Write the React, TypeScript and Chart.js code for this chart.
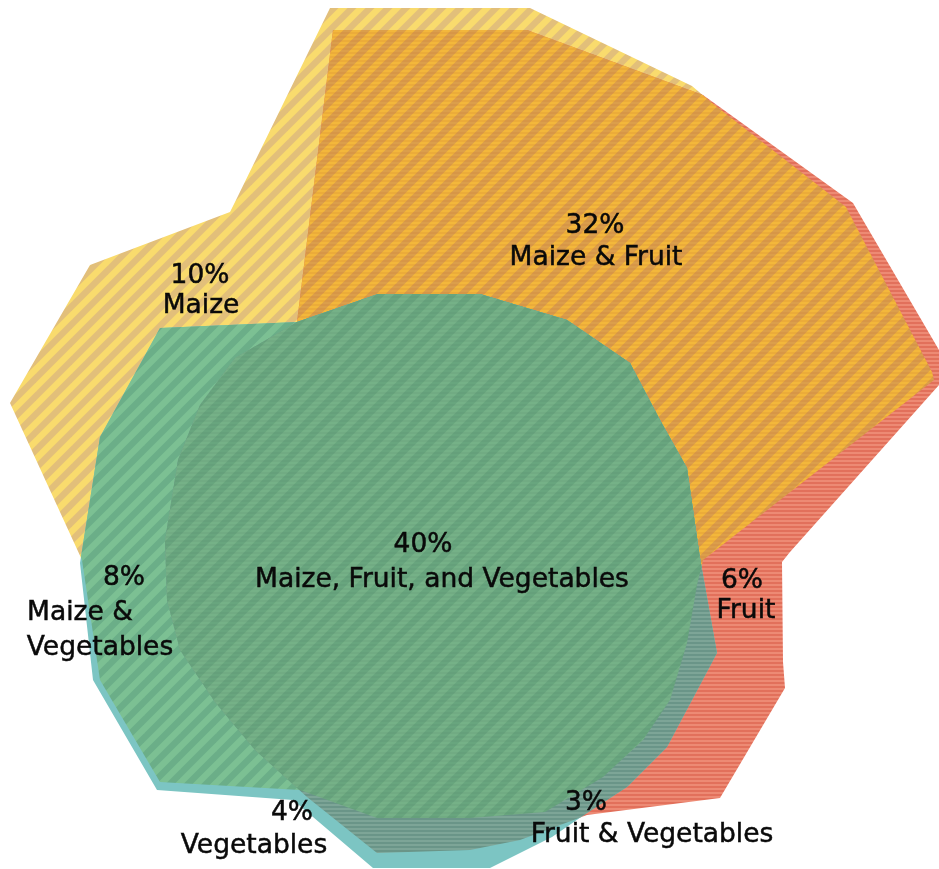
import React, { useEffect, useRef } from "react";
import { Chart, registerables } from "chart.js";

// ---------- data (outline vertices in diagram units, y grows downward) ----------
const maizeOutline: [number, number][] = [
  [330, 8], [530, 8], [692, 86], [712, 103], [846, 207], [932, 372], [934, 380],
  [703, 560], [697, 585], [687, 643], [670, 700], [643, 740], [603, 777],
  [545, 812], [470, 818], [377, 818], [300, 790], [160, 782], [100, 680],
  [82, 560], [10, 403], [90, 265], [230, 212], [237, 198],
];

const fruitOutline: [number, number][] = [
  [333, 30], [527, 30], [703, 95], [853, 203], [939, 350], [939, 385],
  [790, 552], [782, 562], [783, 662], [785, 688], [720, 798], [587, 815],
  [520, 840], [470, 850], [377, 853], [307, 797], [255, 750], [215, 702],
  [180, 650], [167, 600], [165, 540], [178, 460], [200, 405], [235, 358],
  [297, 322],
];

const vegetablesOutline: [number, number][] = [
  [160, 328], [297, 322], [378, 294], [480, 294], [567, 320], [630, 363],
  [660, 420], [687, 468], [700, 558], [717, 653], [667, 747], [627, 787],
  [587, 813], [552, 837], [490, 868], [373, 868], [293, 800], [157, 790],
  [93, 680], [80, 563], [100, 437],
];

const regionPercents = ["10%", "32%", "40%", "8%", "6%", "4%", "3%"];
const regionNames: string[][] = [
  ["Maize"],
  ["Maize & Fruit"],
  ["Maize, Fruit, and Vegetables"],
  ["Maize &", "Vegetables"],
  ["Fruit"],
  ["Vegetables"],
  ["Fruit & Vegetables"],
];

// label anchors: [percent x, percent baseline y], then one [x, baseline y] per name line
const labelAnchors: [number, number][][] = [
  [[200, 283], [201, 313]],
  [[595, 233], [596, 265]],
  [[423, 552], [442, 587]],
  [[124, 585], [80, 620], [100, 655]],
  [[742, 588], [746, 618]],
  [[292, 820], [254, 853]],
  [[586, 810], [652, 842]],
];

// ---------- plugins ----------
const regionClip = {
  id: "regionClip",
  beforeDatasetDraw(chart: any, args: any) {
    const ds: any = chart.data.datasets[args.index];
    if (!ds.clipTo) return;
    const ctx = chart.ctx;
    ctx.save();
    for (const j of ds.clipTo) {
      const pts = chart.getDatasetMeta(j).data;
      ctx.beginPath();
      pts.forEach((p: any, k: number) => (k ? ctx.lineTo(p.x, p.y) : ctx.moveTo(p.x, p.y)));
      ctx.closePath();
      ctx.clip();
    }
  },
  afterDatasetDraw(chart: any, args: any) {
    const ds: any = chart.data.datasets[args.index];
    if (ds.clipTo) chart.ctx.restore();
  },
};

Chart.register(regionClip);
Chart.register(...registerables);

const labelPlugin = {
  id: "vennLabels",
  afterDatasetsDraw(chart: any) {
    const ctx = chart.ctx;
    const xs = chart.scales.x;
    const ys = chart.scales.y;
    ctx.save();
    ctx.font = '26.5px "DejaVu Sans", Verdana, sans-serif';
    ctx.fillStyle = "#0a0a0a";
    ctx.strokeStyle = "#0a0a0a";
    ctx.lineWidth = 0.5;
    ctx.textAlign = "center";
    ctx.textBaseline = "alphabetic";
    regionPercents.forEach((pct, i) => {
      const lines = [pct, ...regionNames[i]];
      lines.forEach((t, k) => {
        const [x, y] = labelAnchors[i][k];
        const px = xs.getPixelForValue(x);
        const py = ys.getPixelForValue(y);
        ctx.fillText(t, px, py);
        ctx.strokeText(t, px, py);
      });
    });
    ctx.restore();
  },
};

function makePattern(
  ctx: CanvasRenderingContext2D,
  base: string,
  diag?: string | null,
  horiz?: string | null
) {
  const s = 36;
  const c = document.createElement("canvas");
  c.width = s;
  c.height = s;
  const g = c.getContext("2d")!;
  g.fillStyle = base;
  g.fillRect(0, 0, s, s);
  if (diag) {
    g.strokeStyle = diag;
    g.lineWidth = 6.4;
    for (let k = -18; k <= 90; k += 18) {
      g.beginPath();
      g.moveTo(k + 10, -10);
      g.lineTo(k - 46, 46);
      g.stroke();
    }
  }
  if (horiz) {
    g.fillStyle = horiz;
    for (let y = 0; y < s; y += 4) g.fillRect(0, y, s, 2);
  }
  return ctx.createPattern(c, "repeat")!;
}

const toPts = (arr: [number, number][]) => arr.map(([x, y]) => ({ x, y }));

export default function App() {
  const ref = useRef<HTMLCanvasElement | null>(null);

  useEffect(() => {
    const canvas = ref.current!;
    const ctx = canvas.getContext("2d")!;
    const pMaize = makePattern(ctx, "#F9DB6D", "#E2BF7A", null);
    const pFruit = makePattern(ctx, "#E2705B", null, "#ED8A74");
    const pMaizeFruit = makePattern(ctx, "#F3B73B", "#DB9E4B", "rgba(190,100,50,0.12)");
    const pVeg = makePattern(ctx, "#7CC5C3", null, null);
    const pMaizeVeg = makePattern(ctx, "#7CC093", "#6BAE88", null);
    const pFruitVeg = makePattern(ctx, "#6A9588", null, "#7DA597");
    const pAll = makePattern(ctx, "#68A57E", "#75B187", "rgba(80,120,100,0.10)");

    const layers: any[] = [
      { data: toPts(maizeOutline), backgroundColor: pMaize },
      { data: toPts(fruitOutline), backgroundColor: pFruit },
      { data: toPts(fruitOutline), backgroundColor: pMaizeFruit, clipTo: [0] },
      { data: toPts(vegetablesOutline), backgroundColor: pVeg },
      { data: toPts(vegetablesOutline), backgroundColor: pMaizeVeg, clipTo: [0] },
      { data: toPts(vegetablesOutline), backgroundColor: pFruitVeg, clipTo: [1] },
      { data: toPts(vegetablesOutline), backgroundColor: pAll, clipTo: [0, 1] },
    ];
    const datasets = layers.map((l, i) => ({
      ...l,
      showLine: true,
      fill: "shape",
      borderWidth: 0,
      pointRadius: 0,
      pointHoverRadius: 0,
      tension: 0,
      order: layers.length - i,
    }));

    const chart = new Chart(canvas, {
      type: "scatter",
      data: { datasets },
      options: {
        animation: false,
        responsive: false,
        events: [],
        layout: { padding: 0 },
        scales: {
          x: { type: "linear", min: 0, max: 939, display: false },
          y: { type: "linear", min: 0, max: 869, reverse: true, display: false },
        },
        plugins: {
          legend: { display: false },
          tooltip: { enabled: false },
        },
      },
      plugins: [labelPlugin],
    } as any);
    return () => chart.destroy();
  }, []);

  return (
    <div style={{ position: "absolute", left: 0, top: 0, width: 939, height: 869, background: "#fff" }}>
      <canvas ref={ref} width={939} height={869} style={{ display: "block", width: 939, height: 869 }} />
    </div>
  );
}
